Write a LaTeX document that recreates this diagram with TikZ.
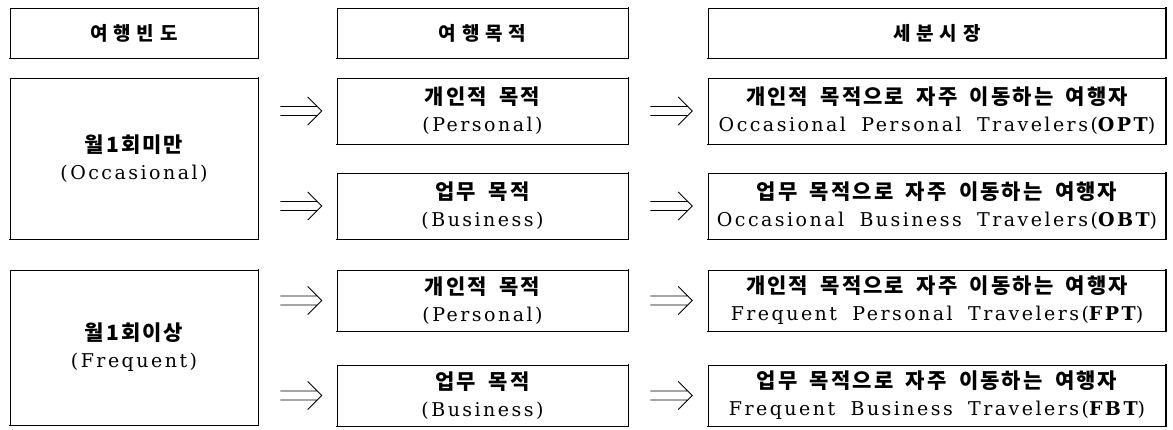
\documentclass[tikz,border=0pt]{standalone}
\usepackage{fontspec}
\usetikzlibrary{calc}
\newfontfamily\krfont[LetterSpace=10,WordSpace=1.8]{Noto Sans CJK KR}
\newfontfamily\krhead[LetterSpace=30]{Noto Sans CJK KR}
\newfontfamily\enfont[LetterSpace=13,WordSpace=1.8]{DejaVu Serif}
\newcommand\twol[2]{{\krfont\bfseries\fontsize{21}{27}\selectfont #1}\\{\enfont\fontsize{19}{27}\selectfont #2}}
\newcommand\hd[1]{{\krhead\bfseries\fontsize{19}{27}\selectfont #1}}
\newcommand\darrow[2]{\draw[arrline] ($(#1)+(0,-4.5)$) -- ($(#2)+(-4,-4.5)$) ($(#1)+(0,4.5)$) -- ($(#2)+(-4,4.5)$) ($(#2)+(-14,-14)$) -- (#2) -- ($(#2)+(-14,14)$);}
\tikzset{
  box/.style={draw, line width=0.6pt, inner sep=0pt, align=center, font=\fontsize{19}{27}\selectfont},
  edgeline/.style={line width=1.6pt, line cap=rect},
  arrline/.style={line width=0.9pt, line join=miter}
}
\begin{document}
\begin{tikzpicture}[x=1pt,y=-1pt]
\useasboundingbox (0,0) rectangle (1173,429);
% headers
\node[box, minimum width=248, minimum height=50] (H1) at (134,33) {\hd{여행빈도}};
\node[box, minimum width=291, minimum height=50] (H2) at (482.5,33) {\hd{여행목적}};
\node[box, minimum width=457, minimum height=50] (H3) at (937,33) {\hd{세분시장}};
% left column
\node[box, minimum width=248, minimum height=161] (L1) at (134,158.5) {\twol{월1회미만}{(Occasional)}};
\node[box, minimum width=248, minimum height=155] (L2) at (134,347.5) {\twol{월1회이상}{(Frequent)}};
% middle column
\node[box, minimum width=291, minimum height=66] (M1) at (482.5,111) {\twol{개인적 목적}{(Personal)}};
\node[box, minimum width=291, minimum height=66] (M2) at (482.5,206) {\twol{업무 목적}{(Business)}};
\node[box, minimum width=291, minimum height=61] (M3) at (482.5,300.5) {\twol{개인적 목적}{(Personal)}};
\node[box, minimum width=291, minimum height=61] (M4) at (482.5,395.5) {\twol{업무 목적}{(Business)}};
% right column
\node[box, minimum width=457, minimum height=66] (R1) at (937,111) {\twol{개인적 목적으로 자주 이동하는 여행자}{Occasional Personal Travelers({\bfseries OPT})}};
\node[box, minimum width=457, minimum height=66] (R2) at (937,206) {\twol{업무 목적으로 자주 이동하는 여행자}{Occasional Business Travelers({\bfseries OBT})}};
\node[box, minimum width=457, minimum height=61] (R3) at (937,300.5) {\twol{개인적 목적으로 자주 이동하는 여행자}{Frequent Personal Travelers({\bfseries FPT})}};
\node[box, minimum width=457, minimum height=61] (R4) at (937,395.5) {\twol{업무 목적으로 자주 이동하는 여행자}{Frequent Business Travelers({\bfseries FBT})}};
% heavier right and bottom edges
\foreach \n in {H1,H2,H3,L1,L2,M1,M2,M3,M4,R1,R2,R3,R4}
  \draw[edgeline] (\n.north east) -- (\n.south east) -- (\n.south west);
% arrows
\foreach \m/\l in {M1/L1,M2/L1,M3/L2,M4/L2}{
  \coordinate (s\m) at ($(\l.east |- \m.west)+(22,0)$);
  \coordinate (t\m) at ($(\m.west)+(-15,0)$);
  \darrow{s\m}{t\m}
}
\foreach \m/\r in {M1/R1,M2/R2,M3/R3,M4/R4}{
  \coordinate (u\m) at ($(\m.east)+(22,0)$);
  \coordinate (v\m) at ($(\r.west)+(-16,0)$);
  \darrow{u\m}{v\m}
}
\end{tikzpicture}
\end{document}
